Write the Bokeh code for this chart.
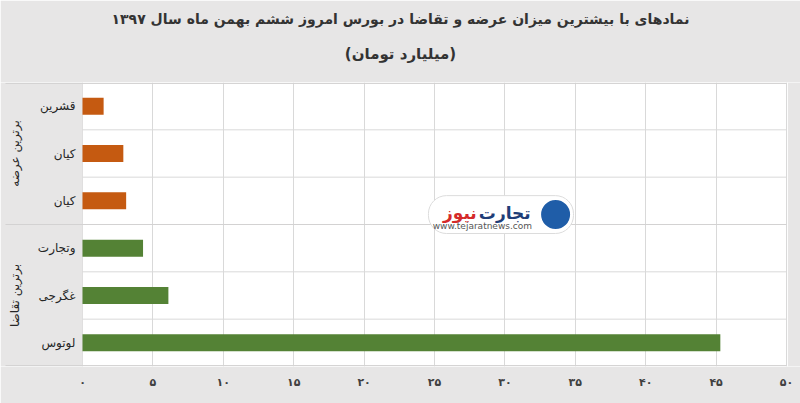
from bokeh.plotting import figure
from bokeh.models import ColumnDataSource, Range1d, FixedTicker, Title, BoxAnnotation
from bokeh.core.properties import value
from bokeh.embed import file_html
from bokeh.resources import INLINE

# ---- data ----
title_line1 = "نمادهای با بیشترین میزان عرضه و تقاضا در بورس امروز ششم بهمن ماه سال ۱۳۹۷"
title_line2 = "(میلیارد تومان)"
groups = ["برترین عرضه", "برترین تقاضا"]
symbols = ["قشرین", "کیان", "کیان", "وتجارت", "غگرجی", "لوتوس"]
values = [1.5, 2.9, 3.1, 4.3, 6.1, 45.3]
symbol_group = [0, 0, 0, 1, 1, 1]
group_colors = ["#c55a11", "#548235"]
tick_values = [0, 5, 10, 15, 20, 25, 30, 35, 40, 45, 50]
tick_labels = ["۰", "۵", "۱۰", "۱۵", "۲۰", "۲۵", "۳۰", "۳۵", "۴۰", "۴۵", "۵۰"]

FONT = "DejaVu Sans"
BG = "#e7e6e6"
n = len(symbols)
ypos = [n - 0.5 - i for i in range(n)]
src = ColumnDataSource(dict(
    name=symbols, val=values, y=ypos,
    color=[group_colors[g] for g in symbol_group],
))

xmin, xmax = -5.824, 50.994
p = figure(width=800, height=403, output_backend="svg", toolbar_location=None,
           x_range=Range1d(xmin, xmax), y_range=Range1d(0, n),
           min_border_left=0, min_border_right=0, min_border_top=82, min_border_bottom=37)
p.background_fill_color = "white"
p.border_fill_color = BG
p.outline_line_color = None

# gray strips left and right of the plot area
p.add_layout(BoxAnnotation(right=0, fill_color=BG, fill_alpha=1, line_color=None, level="underlay"))
p.add_layout(BoxAnnotation(left=50.1, fill_color=BG, fill_alpha=1, line_color=None, level="underlay"))

# grid
p.xgrid.ticker = FixedTicker(ticks=tick_values)
p.xgrid.grid_line_color = "#d9d9d9"
p.ygrid.visible = False
inner = [k for k in range(1, n) if k != 3]
p.segment(x0=[0] * len(inner), x1=[50] * len(inner), y0=inner, y1=inner,
          line_color="#d9d9d9", line_width=1)
seps = [0.02, 3, n - 0.02]
p.segment(x0=[-5.47] * 3, x1=[50] * 3, y0=seps, y1=seps, line_color="#d3d2d2", line_width=1)

# bars
p.hbar(y="y", left=0, right="val", height=0.36, fill_color="color", line_color=None, source=src)

# category labels
p.text(x=-0.5, y="y", text="name", source=src, text_align="right", text_baseline="middle",
       text_font=value(FONT), text_font_size="12px", text_color="#262626")

# group labels
p.text(x=[-4.76] * 2, y=[4.5, 1.5], text=groups, angle=1.5708, text_align="center",
       text_baseline="middle", text_font=value(FONT), text_font_size="12px", text_color="#262626")

# axes
p.yaxis.visible = False
xa = p.xaxis[0]
xa.ticker = FixedTicker(ticks=tick_values)
xa.major_label_overrides = {t: l for t, l in zip(tick_values, tick_labels)}
xa.axis_line_color = None
xa.major_tick_line_color = None
xa.minor_tick_line_color = None
xa.major_tick_out = 0
xa.major_tick_in = 0
xa.major_label_standoff = 9
xa.major_label_text_font = FONT
xa.major_label_text_font_size = "11px"
xa.major_label_text_font_style = "bold"
xa.major_label_text_color = "#404040"

# watermark (logo approximation)
p.quad(left=[24.57], right=[34.87], bottom=[2.81], top=[3.61], fill_color="white",
       line_color="#dcdcdc", border_radius=18)
p.scatter(x=[33.6], y=[3.21], size=31, marker="circle", fill_color="#1f5da8", line_color="white", line_width=2)
p.text(x=[28.15], y=[3.25], text=["تجارت"], text_align="left", text_baseline="middle",
       text_font=value(FONT), text_font_size="17px", text_font_style="bold", text_color="#1f3e78")
p.text(x=[28.0], y=[3.25], text=["نیوز"], text_align="right", text_baseline="middle",
       text_font=value(FONT), text_font_size="17px", text_font_style="bold", text_color="#d52a2a")
p.text(x=[28.4], y=[2.96], text=["www.tejaratnews.com"], text_align="center", text_baseline="middle",
       text_font=value(FONT), text_font_size="9px", text_color="#555555")

# titles (the one added later sits closer to the frame)
p.title.text = title_line1
p.title.align = "center"
p.title.text_font = FONT
p.title.text_font_size = "14px"
p.title.text_font_style = "bold"
p.title.text_color = "#333333"
p.title.standoff = 0
p.add_layout(Title(text=title_line2, align="center", vertical_align="top", text_font=FONT,
                   text_font_size="15px", text_font_style="bold", text_color="#333333",
                   standoff=36), "above")

open("out.html", "w").write(file_html(p, INLINE))
